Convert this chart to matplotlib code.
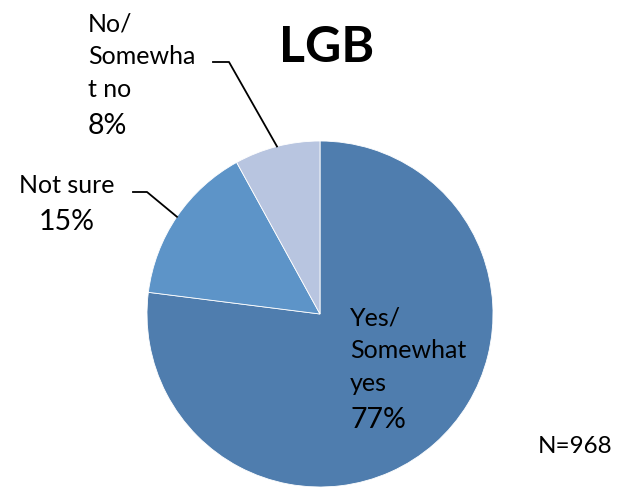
import matplotlib
matplotlib.use("Agg")
import numpy as np
import matplotlib.pyplot as plt
from matplotlib.lines import Line2D

W, H = 617, 488

categories = ["Yes/\nSomewhat\nyes", "Not sure", "No/\nSomewha\nt no"]
shares = [77, 15, 8]
colors = ["#4F7DAE", "#5D94C8", "#B8C5E0"]
title = "LGB"
note = "N=968"

plt.rcParams["font.family"] = ["Lato", "DejaVu Sans"]

fig = plt.figure(figsize=(W / 100, H / 100), dpi=100)


def fx(px):
    return px / W


def fy(py):
    return 1 - py / H


# pie box in pixels (center 320,314 radius 173)
cx, cy, r = 320, 314, 173
ax = fig.add_axes([fx(cx - r), fy(cy + r), 2 * r / W, 2 * r / H])
wedges, _ = ax.pie(shares, colors=colors, startangle=90, counterclock=False,
                   radius=1, wedgeprops=dict(linewidth=0.6, edgecolor="white"))
ax.set_xlim(-1, 1)
ax.set_ylim(-1, 1)
ax.set_aspect("equal")
ax.axis("off")

fig.text(fx(327), fy(62), title, ha="center", va="baseline",
         fontsize=36, fontweight="bold")


def lines(x, y0, text, pct, ha="left", step=33, fs=18, pfs=20.5):
    parts = text.split("\n")
    for i, p in enumerate(parts):
        fig.text(fx(x), fy(y0 + i * step), p, ha=ha, va="baseline", fontsize=fs)
    fig.text(fx(x), fy(y0 + len(parts) * step + 4), pct, ha=ha,
             va="baseline", fontsize=pfs)


pcts = [f"{v}%" for v in shares]
lines(350, 325, categories[0], pcts[0])
lines(67, 193, categories[1], pcts[1], ha="center")
lines(88, 31, categories[2], pcts[2], step=33)

fig.text(fx(612), fy(453), note, ha="right", va="baseline", fontsize=17.5)


def edge_px(w):
    mid = np.deg2rad((w.theta1 + w.theta2) / 2)
    return cx + r * np.cos(mid), cy - r * np.sin(mid)


# leader lines: horizontal stub then to the wedge edge
for w, (x0, x1, y) in zip(wedges[1:], [(133, 147, 192), (213, 229, 62)]):
    ex, ey = edge_px(w)
    fig.add_artist(Line2D([fx(x0), fx(x1), fx(ex)], [fy(y), fy(y), fy(ey)],
                          color="black", linewidth=1.3,
                          transform=fig.transFigure))

fig.savefig("out.png", dpi=100)
